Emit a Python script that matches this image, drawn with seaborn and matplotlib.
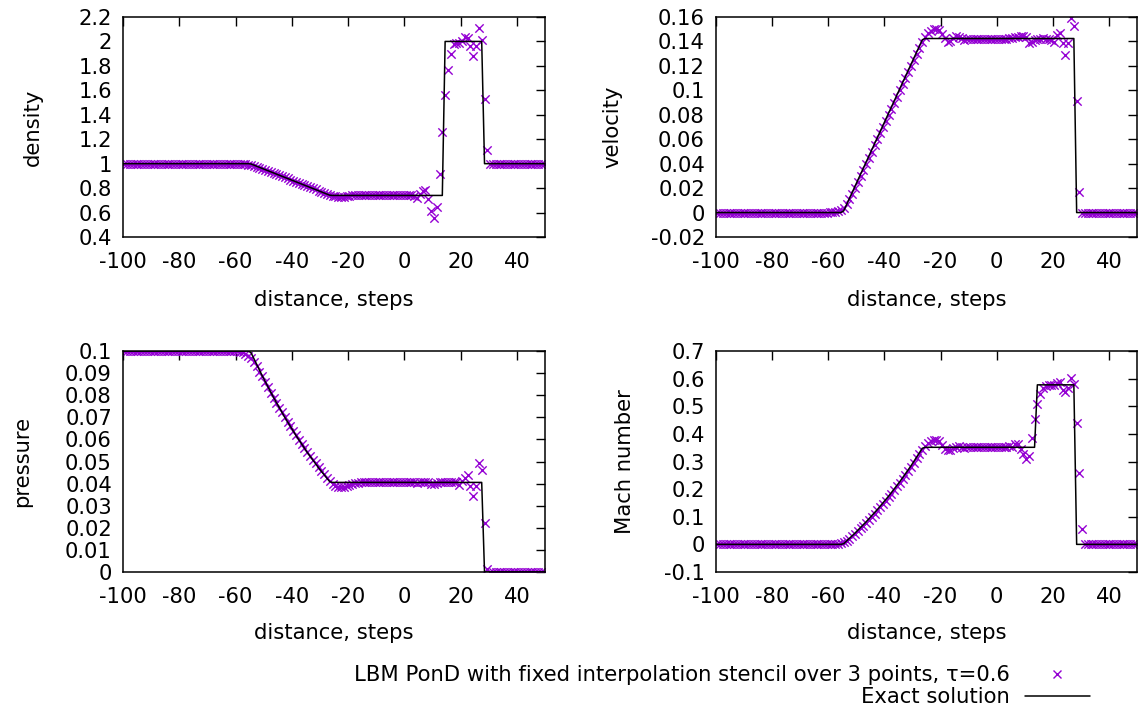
import numpy as np
import matplotlib
matplotlib.use("Agg")
import matplotlib.pyplot as plt
from matplotlib.lines import Line2D
import seaborn as sns

# ---------------- data ----------------
# lattice nodes (sample positions, distance in steps)
x_nodes = np.arange(-99.5, 50.0, 1.0)

density_lbm = [
    1.0, 1.0, 1.0, 1.0, 1.0, 1.0, 1.0, 1.0, 1.0, 1.0,
    1.0, 1.0, 1.0, 1.0, 1.0, 1.0, 1.0, 1.0, 1.0, 1.0,
    1.0, 1.0, 1.0, 1.0, 1.0, 1.0, 1.0, 1.0, 1.0, 1.0,
    1.0, 1.0, 1.0, 1.0, 1.0, 1.0, 1.0, 1.0, 1.0, 1.0,
    1.000, 0.999, 0.998, 0.996, 0.993, 0.989, 0.983, 0.976, 0.968, 0.960,
    0.951, 0.942, 0.933, 0.924, 0.915, 0.906, 0.897, 0.888, 0.879, 0.870,
    0.861, 0.852, 0.843, 0.834, 0.825, 0.816, 0.807, 0.798, 0.789, 0.780,
    0.771, 0.762, 0.753, 0.745, 0.738, 0.733, 0.730, 0.729, 0.730, 0.733,
    0.737, 0.741, 0.743, 0.744, 0.745, 0.746, 0.746, 0.746, 0.746, 0.746,
    0.746, 0.747, 0.746, 0.746, 0.745, 0.746, 0.746, 0.747, 0.746, 0.746,
    0.745, 0.744, 0.742, 0.735, 0.722, 0.755, 0.775, 0.786, 0.712, 0.615,
    0.553, 0.643, 0.916, 1.26, 1.56, 1.77, 1.90, 1.98, 1.99, 1.99,
    2.00, 2.04, 2.03, 1.96, 1.88, 1.96, 2.11, 2.01, 1.53, 1.11,
    1.0, 1.0, 1.0, 1.0, 1.0, 1.0, 1.0, 1.0, 1.0, 1.0,
    1.0, 1.0, 1.0, 1.0, 1.0, 1.0, 1.0, 1.0, 1.0, 1.0,
]

velocity_lbm = [
    0.0, 0.0, 0.0, 0.0, 0.0, 0.0, 0.0, 0.0, 0.0, 0.0,
    0.0, 0.0, 0.0, 0.0, 0.0, 0.0, 0.0, 0.0, 0.0, 0.0,
    0.0, 0.0, 0.0, 0.0, 0.0, 0.0, 0.0, 0.0, 0.0, 0.0,
    0.0, 0.0, 0.0, 0.0, 0.0, 0.0, 0.0, 0.0, 0.0, 0.0,
    0.0002, 0.0004, 0.0008, 0.0014, 0.0024, 0.0040, 0.0070, 0.0108, 0.0153, 0.0200,
    0.0249, 0.0299, 0.0349, 0.0399, 0.0449, 0.0499, 0.0549, 0.0599, 0.0649, 0.0699,
    0.0749, 0.0799, 0.0849, 0.0899, 0.0949, 0.0999, 0.1049, 0.1099, 0.1149, 0.1199,
    0.1249, 0.1299, 0.1350, 0.1398, 0.1435, 0.1465, 0.1485, 0.1498, 0.1500, 0.1490,
    0.1460, 0.1425, 0.1395, 0.1400, 0.1425, 0.1445, 0.1440, 0.1430, 0.1415, 0.1418,
    0.1422, 0.1424, 0.1421, 0.1422, 0.1423, 0.1421, 0.1422, 0.1422, 0.1423, 0.1422,
    0.1421, 0.1422, 0.1422, 0.1422, 0.1425, 0.1428, 0.1435, 0.1440, 0.1445, 0.1442,
    0.1435, 0.1388, 0.1395, 0.1410, 0.1418, 0.1422, 0.1425, 0.1422, 0.1418, 0.1410,
    0.1394, 0.1449, 0.1468, 0.1386, 0.1290, 0.1386, 0.1594, 0.1523, 0.0912, 0.0166,
    0.0, 0.0, 0.0, 0.0, 0.0, 0.0, 0.0, 0.0, 0.0, 0.0,
    0.0, 0.0, 0.0, 0.0, 0.0, 0.0, 0.0, 0.0, 0.0, 0.0,
]

pressure_lbm = [
    0.1, 0.1, 0.1, 0.1, 0.1, 0.1, 0.1, 0.1, 0.1, 0.1,
    0.1, 0.1, 0.1, 0.1, 0.1, 0.1, 0.1, 0.1, 0.1, 0.1,
    0.1, 0.1, 0.1, 0.1, 0.1, 0.1, 0.1, 0.1, 0.1, 0.1,
    0.1, 0.1, 0.1, 0.1, 0.1, 0.1, 0.1, 0.1, 0.1, 0.1,
    0.1000, 0.0997, 0.0994, 0.0988, 0.0979, 0.0967, 0.0950, 0.0930, 0.0907, 0.0885,
    0.0860, 0.0836, 0.0812, 0.0789, 0.0766, 0.0744, 0.0722, 0.0700, 0.0679, 0.0659,
    0.0638, 0.0618, 0.0599, 0.0580, 0.0562, 0.0543, 0.0526, 0.0508, 0.0491, 0.0475,
    0.0458, 0.0442, 0.0427, 0.0413, 0.0400, 0.0391, 0.0385, 0.0383, 0.0384, 0.0387,
    0.0392, 0.0398, 0.0402, 0.0404, 0.0406, 0.0407, 0.0407, 0.0406, 0.0406, 0.0406,
    0.0406, 0.0407, 0.0406, 0.0406, 0.0405, 0.0406, 0.0406, 0.0407, 0.0406, 0.0406,
    0.0406, 0.0405, 0.0405, 0.0405, 0.0403, 0.0406, 0.0408, 0.0409, 0.0406, 0.0400,
    0.0398, 0.0402, 0.0405, 0.0406, 0.0406, 0.0407, 0.0407, 0.0406, 0.0405, 0.0393,
    0.0410, 0.0427, 0.0439, 0.0390, 0.0343, 0.0390, 0.0495, 0.0461, 0.0220, 0.0015,
    0.0002, 0.0002, 0.0002, 0.0002, 0.0002, 0.0002, 0.0002, 0.0002, 0.0002, 0.0002,
    0.0002, 0.0002, 0.0002, 0.0002, 0.0002, 0.0002, 0.0002, 0.0002, 0.0002, 0.0002,
]

mach_lbm = [
    0.0, 0.0, 0.0, 0.0, 0.0, 0.0, 0.0, 0.0, 0.0, 0.0,
    0.0, 0.0, 0.0, 0.0, 0.0, 0.0, 0.0, 0.0, 0.0, 0.0,
    0.0, 0.0, 0.0, 0.0, 0.0, 0.0, 0.0, 0.0, 0.0, 0.0,
    0.0, 0.0, 0.0, 0.0, 0.0, 0.0, 0.0, 0.0, 0.0, 0.0,
    0.0004, 0.0007, 0.0015, 0.0026, 0.0044, 0.0074, 0.0130, 0.0202, 0.0289, 0.0380,
    0.0478, 0.0579, 0.0683, 0.0788, 0.0896, 0.1006, 0.1117, 0.1232, 0.1348, 0.1467,
    0.1588, 0.1712, 0.1839, 0.1968, 0.2100, 0.2235, 0.2373, 0.2514, 0.2659, 0.2807,
    0.2958, 0.3112, 0.3273, 0.3426, 0.3558, 0.3662, 0.3733, 0.3773, 0.3776, 0.3744,
    0.3600, 0.3470, 0.3400, 0.3420, 0.3480, 0.3540, 0.3550, 0.3530, 0.3500, 0.3507,
    0.3517, 0.3520, 0.3514, 0.3517, 0.3519, 0.3514, 0.3517, 0.3517, 0.3519, 0.3517,
    0.3514, 0.3517, 0.3520, 0.3520, 0.3560, 0.3540, 0.3620, 0.3650, 0.3440, 0.3260,
    0.3090, 0.3200, 0.3850, 0.4550, 0.5090, 0.5430, 0.5650, 0.5730, 0.5760, 0.5770,
    0.5780, 0.5850, 0.5880, 0.5590, 0.5520, 0.5650, 0.6010, 0.5810, 0.4380, 0.2570,
    0.0550, 0.0, 0.0, 0.0, 0.0, 0.0, 0.0, 0.0, 0.0, 0.0,
    0.0, 0.0, 0.0, 0.0, 0.0, 0.0, 0.0, 0.0, 0.0, 0.0,
]

# exact solution (polyline vertices)
exact_x_simple = [-100.0, -55.5, -54.5, -26.5, -25.5, 13.5, 14.5, 27.5, 28.5, 50.0]
exact_density = [1.0, 1.0, 0.9975, 0.7419, 0.7400, 0.7400, 2.0, 2.0, 1.0, 1.0]

exact_x_velocity = [-100.0, -55.5, -54.5, -26.5, -25.5, 27.5, 28.5, 50.0]
exact_velocity = [0.0, 0.0, 0.00136, 0.14136, 0.1424, 0.1424, 0.0, 0.0]

exact_x_pressure = [-100.0, -55.5, -54.5, -50.5, -46.5, -42.5, -38.5, -34.5, -30.5,
                    -26.5, -25.5, 27.5, 28.5, 50.0]
exact_pressure = [0.1, 0.1, 0.09926, 0.08875, 0.07901, 0.07002, 0.06173, 0.05412,
                  0.04717, 0.04084, 0.04054, 0.04054, 0.0, 0.0]

exact_x_mach = [-100.0, -55.5, -54.5, -50.5, -46.5, -42.5, -38.5, -34.5, -30.5,
                -26.5, -25.5, 13.5, 14.5, 27.5, 28.5, 50.0]
exact_mach = [0.0, 0.0, 0.0025, 0.0406, 0.0817, 0.1262, 0.1745, 0.2271, 0.2846,
              0.3479, 0.3514, 0.3514, 0.5775, 0.5775, 0.0, 0.0]

x_ticks = [-100, -80, -60, -40, -20, 0, 20, 40]
x_tick_labels = ["-100", "-80", "-60", "-40", "-20", "0", "20", "40"]

density_ticks = [0.4, 0.6, 0.8, 1.0, 1.2, 1.4, 1.6, 1.8, 2.0, 2.2]
density_tick_labels = ["0.4", "0.6", "0.8", "1", "1.2", "1.4", "1.6", "1.8", "2", "2.2"]
velocity_ticks = [-0.02, 0.0, 0.02, 0.04, 0.06, 0.08, 0.1, 0.12, 0.14, 0.16]
velocity_tick_labels = ["-0.02", "0", "0.02", "0.04", "0.06", "0.08", "0.1", "0.12", "0.14", "0.16"]
pressure_ticks = [0.0, 0.01, 0.02, 0.03, 0.04, 0.05, 0.06, 0.07, 0.08, 0.09, 0.1]
pressure_tick_labels = ["0", "0.01", "0.02", "0.03", "0.04", "0.05", "0.06", "0.07", "0.08", "0.09", "0.1"]
mach_ticks = [-0.1, 0.0, 0.1, 0.2, 0.3, 0.4, 0.5, 0.6, 0.7]
mach_tick_labels = ["-0.1", "0", "0.1", "0.2", "0.3", "0.4", "0.5", "0.6", "0.7"]

lbm_label = "LBM PonD with fixed interpolation stencil over 3 points, \u03c4=0.6"
exact_label = "Exact solution"

# ---------------- style ----------------
sns.set_theme(style="white")
plt.rcParams["font.family"] = ["DejaVu Sans"]
plt.rcParams["axes.unicode_minus"] = False
plt.rcParams["text.color"] = "black"

PURPLE = "#9400D3"
FS = 15.2
W, H = 1139, 711

fig = plt.figure(figsize=(W / 100, H / 100), dpi=100)
fig.patch.set_facecolor("white")


def make_axes(l, r, t, b):
    return fig.add_axes([l / W, 1 - b / H, (r - l) / W, (b - t) / H])


panels = [
    dict(box=(123, 545, 17, 237), y=density_lbm, ex=exact_x_simple, ey=exact_density,
         ylim=(0.4, 2.2), yt=density_ticks, ytl=density_tick_labels, ylab="density", ylx=-0.213, xly=-0.286),
    dict(box=(716, 1137, 17, 237), y=velocity_lbm, ex=exact_x_velocity, ey=exact_velocity,
         ylim=(-0.02, 0.16), yt=velocity_ticks, ytl=velocity_tick_labels, ylab="velocity", ylx=-0.245, xly=-0.286),
    dict(box=(123, 545, 351, 572), y=pressure_lbm, ex=exact_x_pressure, ey=exact_pressure,
         ylim=(0.0, 0.1), yt=pressure_ticks, ytl=pressure_tick_labels, ylab="pressure", ylx=-0.239, xly=-0.276),
    dict(box=(716, 1137, 351, 572), y=mach_lbm, ex=exact_x_mach, ey=exact_mach,
         ylim=(-0.1, 0.7), yt=mach_ticks, ytl=mach_tick_labels, ylab="Mach number", ylx=-0.216, xly=-0.276),
]

for p in panels:
    ax = make_axes(*p["box"])
    sns.scatterplot(x=x_nodes, y=p["y"], ax=ax, marker="x", color=PURPLE,
                    s=36, linewidth=1.0, zorder=2, legend=False)
    sns.lineplot(x=p["ex"], y=p["ey"], ax=ax, color="black", linewidth=1.1,
                 sort=False, estimator=None, zorder=3, legend=False)
    ax.set_xlim(-100, 50)
    ax.set_ylim(*p["ylim"])
    ax.set_xticks(x_ticks)
    ax.set_xticklabels(x_tick_labels)
    ax.set_yticks(p["yt"])
    ax.set_yticklabels(p["ytl"])
    ax.tick_params(axis="both", direction="in", length=6.5, width=1.0, color="black",
                   labelsize=FS, labelcolor="black", top=True, right=True)
    ax.tick_params(axis="x", pad=11)
    ax.tick_params(axis="y", pad=8)
    for sp in ax.spines.values():
        sp.set_visible(True)
        sp.set_color("black")
        sp.set_linewidth(1.1)
    ax.set_xlabel("distance, steps", fontsize=FS, color="black", va="center")
    ax.xaxis.set_label_coords(0.5, p["xly"])
    ax.set_ylabel(p["ylab"], fontsize=FS, color="black", va="center")
    ax.yaxis.set_label_coords(p["ylx"], 0.5)
    ax.grid(False)
    ax.set_facecolor("white")

handles = [
    Line2D([], [], marker="x", linestyle="none", color=PURPLE, markersize=6, markeredgewidth=1.0),
    Line2D([], [], color="black", linewidth=1.1),
]
fig.legend(handles, [lbm_label, exact_label], loc="center right",
           bbox_to_anchor=(1090 / W, 1 - 686 / H), frameon=False, markerfirst=False,
           handlelength=3.1, handletextpad=0.7, labelspacing=0.1, borderpad=0,
           borderaxespad=0, fontsize=FS, labelcolor="black")

fig.savefig("out.png", dpi=100)
